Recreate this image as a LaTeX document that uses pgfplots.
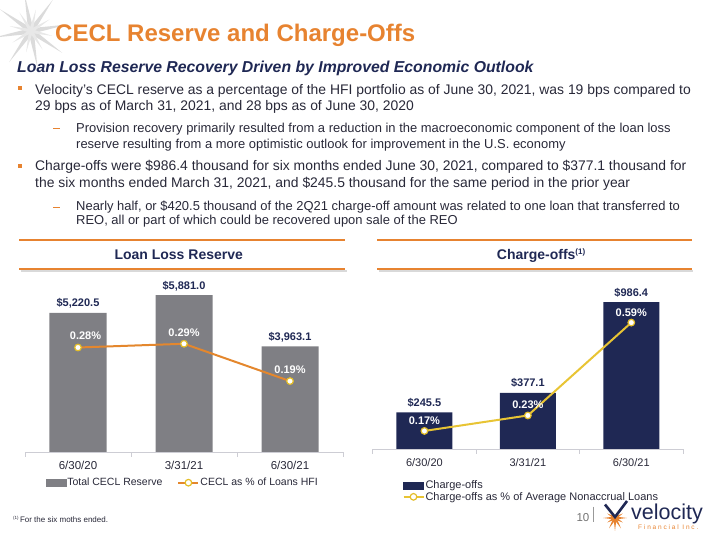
\documentclass[border=0pt]{standalone}
\usepackage{pgfplots}
\pgfplotsset{compat=1.18}
\usepackage{fontspec}
\setmainfont{Liberation Sans}
\newfontfamily\spacedfont[LetterSpace=28]{Liberation Sans}
\definecolor{vorange}{RGB}{231,131,48}
\definecolor{vnavy}{RGB}{31,40,84}
\definecolor{vgray}{RGB}{127,127,132}
\definecolor{vtext}{RGB}{40,40,56}
\definecolor{lineorange}{RGB}{228,135,45}
\definecolor{lineyellow}{RGB}{232,196,52}
\definecolor{markeredge}{RGB}{228,190,40}
\definecolor{axisgray}{RGB}{205,205,212}
\newcommand{\fs}[1]{\fontsize{#1}{#1}\selectfont}
\pgfplotsset{myline legend/.style={legend image code/.code={\draw[mark repeat=2, mark phase=2, ##1] plot coordinates {(0pt,0pt) (10pt,0pt) (20pt,0pt)};}}}

\begin{document}
\begin{tikzpicture}[x=1pt,y=1pt]
\path[use as bounding box] (0,0) rectangle (720,540);
% decorative star top-left
\begin{scope}
\clip (0,0) rectangle (720,540);
\foreach \a in {10,55,100,145,190,235,280,325}{
  \fill[black!14, shift={(31,509)}] (\a+90:2.8) -- (\a:38) -- (\a-90:2.8) -- cycle;}
\foreach \a in {32,77,122,167,212,257,302,347}{
  \fill[black!9, shift={(31,509)}] (\a+90:2) -- (\a:22) -- (\a-90:2) -- cycle;}
\end{scope}
% title
\node[anchor=base west, inner sep=0, font=\fs{24}\bfseries, text=vorange] at (55,498) {CECL Reserve and Charge-Offs};
\node[anchor=base west, inner sep=0, font=\fs{15.8}\bfseries\itshape, text=vnavy] at (17,467.3) {Loan Loss Reserve Recovery Driven by Improved Economic Outlook};
% bullets
\fill[vorange] (18,449.7) rectangle (22,453.7);
\fill[vorange] (18,372) rectangle (22,376);
\draw[vorange, line width=1pt] (53,411) -- (60,411);
\draw[vorange, line width=1pt] (53,332.3) -- (60,332.3);
\begin{scope}[every node/.style={anchor=base west, inner sep=0, text=vtext}]
\node[font=\fs{13.9}] at (35,445.7) {Velocity’s CECL reserve as a percentage of the HFI portfolio as of June 30, 2021, was 19 bps compared to};
\node[font=\fs{13.9}] at (35,429) {29 bps as of March 31, 2021, and 28 bps as of June 30, 2020};
\node[font=\fs{12.95}] at (76,407.7) {Provision recovery primarily resulted from a reduction in the macroeconomic component of the loan loss};
\node[font=\fs{12.95}] at (76,391.7) {reserve resulting from a more optimistic outlook for improvement in the U.S. economy};
\node[font=\fs{13.9}] at (35,369) {Charge-offs were \$986.4 thousand for six months ended June 30, 2021, compared to \$377.1 thousand for};
\node[font=\fs{13.9}] at (35,352.3) {the six months ended March 31, 2021, and \$245.5 thousand for the same period in the prior year};
\node[font=\fs{12.95}] at (76,329) {Nearly half, or \$420.5 thousand of the 2Q21 charge-off amount was related to one loan that transferred to};
\node[font=\fs{12.95}] at (76,315) {REO, all or part of which could be recovered upon sale of the REO};
\end{scope}
% chart headers
\draw[vorange, line width=1.5pt] (19.3,300) -- (345,300);
\draw[black!15, line width=2pt] (20.5,269) -- (346.5,269);
\draw[vorange, line width=1.5pt] (19.3,271) -- (345,271);
\node[anchor=base, inner sep=0, font=\fs{14}\bfseries, text=vnavy] at (178.7,280.7) {Loan Loss Reserve};
\draw[vorange, line width=1.5pt] (377.3,300) -- (691.7,300);
\draw[black!15, line width=2pt] (378.5,269) -- (693,269);
\draw[vorange, line width=1.5pt] (377.3,271) -- (691.7,271);
\node[anchor=base west, inner sep=0, font=\fs{14}\bfseries, text=vnavy] at (496.7,280.7) {Charge-offs\raisebox{5pt}{\fs{8}(1)}};

% ---------- Left chart ----------
\begin{axis}[at={(25pt,88pt)}, anchor=south west, scale only axis,
  width=318pt, height=186.6pt, xmin=-0.5, xmax=2.5, ymin=0, ymax=7000,
  axis x line*=bottom, axis y line=none, axis line style={axisgray, line width=0.8pt},
  xtick={0,1,2}, xticklabels={6/30/20,3/31/21,6/30/21}, major tick length=0pt,
  minor xtick={-0.5,0.5,1.5,2.5}, minor tick length=5pt, tick align=outside,
  minor tick style={axisgray, line width=0.8pt},
  xticklabel style={font=\fs{11.5}, text=vtext, inner sep=0pt, yshift=-8.5pt},
  ybar, bar width=57pt, clip=false]
\addplot[fill=vgray, draw=none, nodes near coords, point meta=explicit symbolic,
  nodes near coords style={font=\fs{11}\bfseries, text=vnavy, anchor=base, inner sep=0pt, yshift=6pt}]
  coordinates {(0,5220.5) [\$5,220.5] (1,5881.0) [\$5,881.0] (2,3963.1) [\$3,963.1]};
\end{axis}
\begin{axis}[at={(25pt,88pt)}, anchor=south west, scale only axis,
  width=318pt, height=186.6pt, xmin=-0.5, xmax=2.5, ymin=0, ymax=0.5,
  hide axis, clip=false,
  legend columns=2,
  legend style={draw=none, fill=none, at={(0.0651,-0.1645)}, anchor=west,
    inner xsep=0pt, inner ysep=0pt, nodes={inner sep=1pt}, font=\fs{10.5}, text=vtext,
    /tikz/every even column/.append style={column sep=14pt}},
  legend cell align=left]
\addlegendimage{legend image code/.code={\fill[vgray] (0pt,-3.5pt) rectangle (20pt,3.5pt);}}
\addlegendentry{Total CECL Reserve}
\addplot[lineorange, line width=2pt, mark=*, mark size=3.3pt,
  mark options={fill=white, draw=markeredge, line width=1.2pt},
  myline legend,
  nodes near coords, point meta=explicit symbolic,
  nodes near coords style={font=\fs{11}\bfseries, text=white, anchor=base, inner sep=0pt, yshift=7.5pt}]
  coordinates {(0,0.28) [\hspace*{15pt}0.28\%] (1,0.29) [0.29\%] (2,0.19) [0.19\%]};
\addlegendentry{CECL as \% of Loans HFI}
\end{axis}

% ---------- Right chart ----------
\begin{axis}[at={(372.7pt,91pt)}, anchor=south west, scale only axis,
  width=310.3pt, height=170pt, xmin=-0.5, xmax=2.5, ymin=0, ymax=1141,
  axis x line*=bottom, axis y line=none, axis line style={axisgray, line width=0.8pt},
  xtick={0,1,2}, xticklabels={6/30/20,3/31/21,6/30/21}, major tick length=0pt,
  minor xtick={-0.5,0.5,1.5,2.5}, minor tick length=5pt, tick align=outside,
  minor tick style={axisgray, line width=0.8pt},
  xticklabel style={font=\fs{11}, text=vtext, inner sep=0pt, yshift=-9pt},
  ybar, bar width=56pt, clip=false]
\addplot[fill=vnavy, draw=none, nodes near coords, point meta=explicit symbolic,
  nodes near coords style={font=\fs{11}\bfseries, text=vnavy, anchor=base, inner sep=0pt, yshift=6pt}]
  coordinates {(0,245.5) [\$245.5] (1,377.1) [\$377.1] (2,986.4) [\$986.4]};
\end{axis}
\begin{axis}[at={(372.7pt,91pt)}, anchor=south west, scale only axis,
  width=310.3pt, height=170pt, xmin=-0.5, xmax=2.5, ymin=0.1, ymax=0.759,
  hide axis, clip=false,
  legend style={draw=none, fill=none, at={(0.0954,-0.179)}, anchor=north west,
    inner xsep=0pt, inner ysep=0pt, nodes={inner sep=1pt}, font=\fs{11}, text=vtext, row sep=0pt},
  legend cell align=left]
\addlegendimage{legend image code/.code={\fill[vnavy] (0pt,-3.5pt) rectangle (20pt,3.5pt);}}
\addlegendentry{Charge-offs}
\addplot[lineyellow, line width=2pt, mark=*, mark size=3.3pt,
  mark options={fill=white, draw=markeredge, line width=1.2pt},
  myline legend,
  nodes near coords, point meta=explicit symbolic,
  nodes near coords style={font=\fs{11}\bfseries, text=white, anchor=base, inner sep=0pt, yshift=6.5pt}]
  coordinates {(0,0.17) [0.17\%] (1,0.23) [0.23\%] (2,0.59) [0.59\%]};
\addlegendentry{Charge-offs as \% of Average Nonaccrual Loans}
\end{axis}

% footnote
\node[anchor=base west, inner sep=0, font=\fs{8}, text=vtext] at (13,17.7) {\raisebox{2.5pt}{\fs{4.5}(1)}\,For the six moths ended.};
% page number and logo
\node[anchor=base east, inner sep=0, font=\fs{11.5}, text=black!55] at (589.5,18.3) {10};
\draw[black!40, line width=0.7pt] (593.5,33.3) -- (593.5,18);
\foreach \a/\l in {0/12,30/9,60/12,120/12,150/9,180/12,210/9,240/12,270/13,300/12,330/9}{
  \fill[vorange, shift={(615,22)}] (\a+90:1.5) -- (\a:\l) -- (\a-90:1.5) -- cycle;}
\draw[vnavy, line width=2.6pt, line join=miter] (605,35.5) -- (615,23) -- (627,39);
\node[anchor=base west, inner sep=0, font=\fs{21.5}, text=vnavy] at (631,20) {velocity};
\node[anchor=base west, inner sep=0, font=\spacedfont\fs{6.5}, text=vorange] at (638,10.5) {Financial Inc.};
\end{tikzpicture}
\end{document}
